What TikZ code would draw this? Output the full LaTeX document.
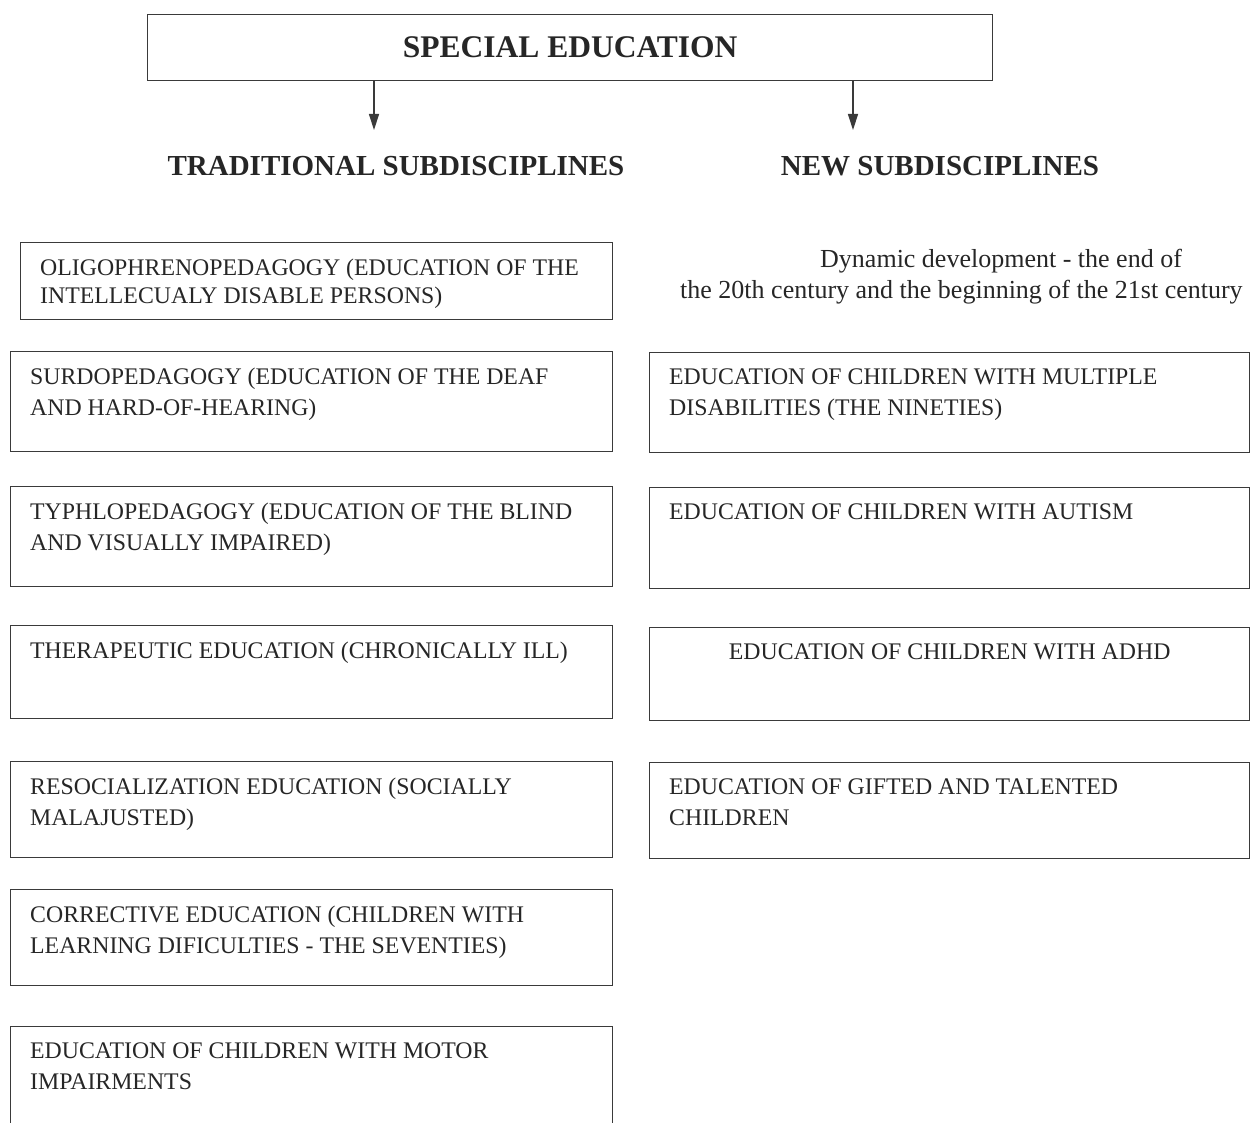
\documentclass[tikz,border=0pt]{standalone}
\usepackage{fontspec}
\setmainfont{Liberation Serif}
\usetikzlibrary{arrows.meta}
\definecolor{cink}{HTML}{262626}
\definecolor{cline}{HTML}{3A3A3A}

\begin{document}
\begin{tikzpicture}[x=1pt, y=-1pt,
  box/.style={draw=cline, line width=1.4pt, anchor=north west, inner sep=0pt},
  txt/.style={anchor=north west, align=left, inner sep=0pt, text=cink,
    font=\fontsize{23.8}{30.5}\selectfont},
  inset/.style={xshift=20pt, yshift=-17pt},
  head/.style={text=cink, inner sep=0pt, font=\bfseries\fontsize{29}{32}\selectfont},
  arr/.style={-{Triangle[length=16pt, width=10pt]}, cline, line width=1.4pt}]
\useasboundingbox (0,0) rectangle (1251,1123);

% top box and the two branches
\node[box, minimum width=845, minimum height=66, text=cink,
  font=\bfseries\fontsize{31.5}{34}\selectfont] (spec) at (147,14) {SPECIAL EDUCATION};
\node[head] (trad) at (396,166) {TRADITIONAL SUBDISCIPLINES};
\node[head] (new) at (940,166) {NEW SUBDISCIPLINES};
\coordinate (tradtip) at (374,130);
\coordinate (newtip) at (853,130);
\draw[arr] (spec.south -| tradtip) -- (tradtip);
\draw[arr] (spec.south -| newtip) -- (newtip);

% traditional subdisciplines
\node[box, minimum width=592, minimum height=77] (trad1) at (20,242) {};
\node[txt, inset, font=\fontsize{23.8}{28}\selectfont] (trad1txt) at (trad1.north west)
  {OLIGOPHRENOPEDAGOGY (EDUCATION OF THE\\INTELLECUALY DISABLE PERSONS)};
\node[box, minimum width=602, minimum height=100] (trad2) at (10,351) {};
\node[txt, inset] (trad2txt) at (trad2.north west)
  {SURDOPEDAGOGY (EDUCATION OF THE DEAF\\AND HARD-OF-HEARING)};
\node[box, minimum width=602, minimum height=100] (trad3) at (10,486) {};
\node[txt, inset] (trad3txt) at (trad3.north west)
  {TYPHLOPEDAGOGY (EDUCATION OF THE BLIND\\AND VISUALLY IMPAIRED)};
\node[box, minimum width=602, minimum height=93] (trad4) at (10,625) {};
\node[txt, inset] (trad4txt) at (trad4.north west)
  {THERAPEUTIC EDUCATION (CHRONICALLY ILL)};
\node[box, minimum width=602, minimum height=96] (trad5) at (10,761) {};
\node[txt, inset] (trad5txt) at (trad5.north west)
  {RESOCIALIZATION EDUCATION (SOCIALLY\\MALAJUSTED)};
\node[box, minimum width=602, minimum height=96] (trad6) at (10,889) {};
\node[txt, inset] (trad6txt) at (trad6.north west)
  {CORRECTIVE EDUCATION (CHILDREN WITH\\LEARNING DIFICULTIES - THE SEVENTIES)};
\node[box, minimum width=602, minimum height=150] (trad7) at (10,1026) {};
\node[txt, inset] (trad7txt) at (trad7.north west)
  {EDUCATION OF CHILDREN WITH MOTOR\\IMPAIRMENTS};

% new subdisciplines
\node[txt, font=\fontsize{26}{31}\selectfont] (dyn) at (680,249)
  {\hspace*{140pt}Dynamic development - the end of\\the 20th century and the beginning of the 21st century};
\node[box, minimum width=600, minimum height=100] (new1) at (649,352) {};
\node[txt, inset] (new1txt) at (new1.north west)
  {EDUCATION OF CHILDREN WITH MULTIPLE\\DISABILITIES (THE NINETIES)};
\node[box, minimum width=600, minimum height=101] (new2) at (649,487) {};
\node[txt, inset] (new2txt) at (new2.north west)
  {EDUCATION OF CHILDREN WITH AUTISM};
\node[box, minimum width=600, minimum height=93] (new3) at (649,627) {};
\node[txt, anchor=north, yshift=-17pt] (new3txt) at (new3.north)
  {EDUCATION OF CHILDREN WITH ADHD};
\node[box, minimum width=600, minimum height=96] (new4) at (649,762) {};
\node[txt, inset] (new4txt) at (new4.north west)
  {EDUCATION OF GIFTED AND TALENTED\\CHILDREN};
\end{tikzpicture}
\end{document}
